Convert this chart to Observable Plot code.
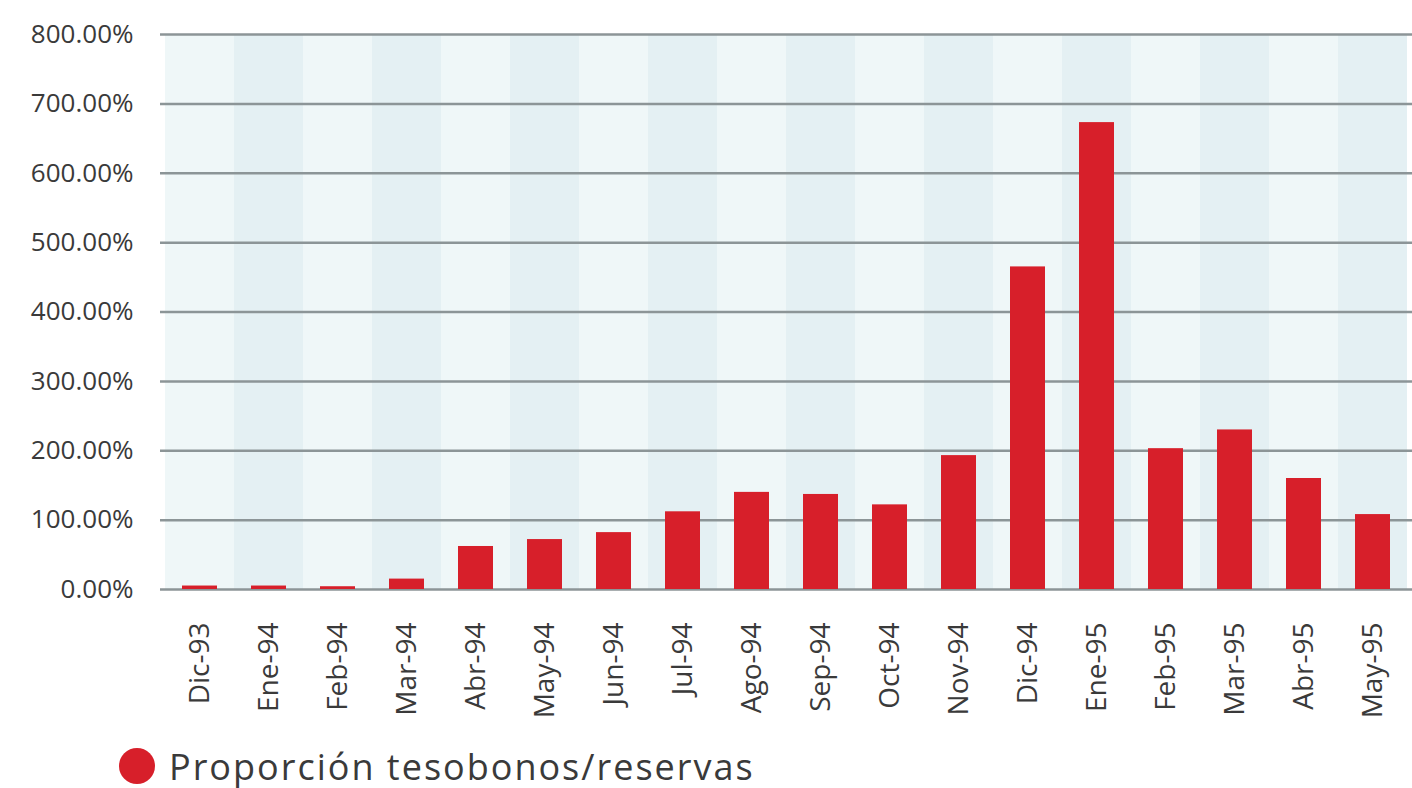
<!DOCTYPE html>
<html>
<head>
<meta charset="utf-8">
<script src="https://cdn.jsdelivr.net/npm/d3@7"></script>
<script src="https://cdn.jsdelivr.net/npm/@observablehq/plot@0.6"></script>
<style>
  html, body { margin: 0; padding: 0; background: #ffffff; }
  #chart { width: 1412px; height: 720px; }
  .legend { display: flex; align-items: center; height: 68px; margin-top: 12px; padding-left: 119px; font-family: "Open Sans", sans-serif; font-size: 36px; letter-spacing: 2px; color: #3a3a3a; }
  .legend .dot { width: 36px; height: 36px; border-radius: 50%; background: #d71f2a; margin-right: 14px; }
</style>
</head>
<body>
<div id="chart"></div>
<script>
const months = ["Dic-93","Ene-94","Feb-94","Mar-94","Abr-94","May-94","Jun-94","Jul-94","Ago-94","Sep-94","Oct-94","Nov-94","Dic-94","Ene-95","Feb-95","Mar-95","Abr-95","May-95"];
const values = [5, 5, 4, 15, 62, 72, 82, 112, 140, 137, 122, 193, 465, 673, 203, 230, 160, 108];
const yTicks = [0, 100, 200, 300, 400, 500, 600, 700, 800];
const seriesName = "Proporción tesobonos/reservas";

const data = months.map((m, i) => ({month: m, value: values[i], idx: i}));
const yMax = yTicks[yTicks.length - 1];

const plot = Plot.plot({
  width: 1412,
  height: 720,
  marginLeft: 160,
  marginRight: 0,
  marginTop: 34,
  marginBottom: 131,
  style: {fontFamily: "'Open Sans', sans-serif", background: "#ffffff"},
  x: {domain: months, padding: 0, label: null},
  y: {domain: [0, yMax], label: null},
  marks: [
    Plot.barY(data, {x: "month", y1: 0, y2: yMax, fill: d => d.idx % 2 === 0 ? "#eff7f8" : "#e4f0f3"}),
    Plot.ruleY(yTicks, {stroke: "#8c9597", strokeWidth: 2.5}),
    Plot.barY(data, {x: "month", y: "value", fill: "#d71f2a", insetLeft: 17, insetRight: 17}),
    Plot.axisY({ticks: yTicks, tickSize: 0, tickPadding: 27, tickFormat: d => d.toFixed(2) + "%", fontSize: 26, fill: "#3a3a3a", label: null, style: {letterSpacing: "3.5px"}}),
    Plot.axisX({tickSize: 0, tickRotate: -90, tickPadding: 33, fontSize: 28, fill: "#3a3a3a", label: null, style: {letterSpacing: "4.5px"}})
  ]
});
document.getElementById("chart").appendChild(plot);

const legend = document.createElement("div");
legend.className = "legend";
legend.innerHTML = `<span class="dot"></span><span>${seriesName}</span>`;
document.body.appendChild(legend);
</script>
</body>
</html>
